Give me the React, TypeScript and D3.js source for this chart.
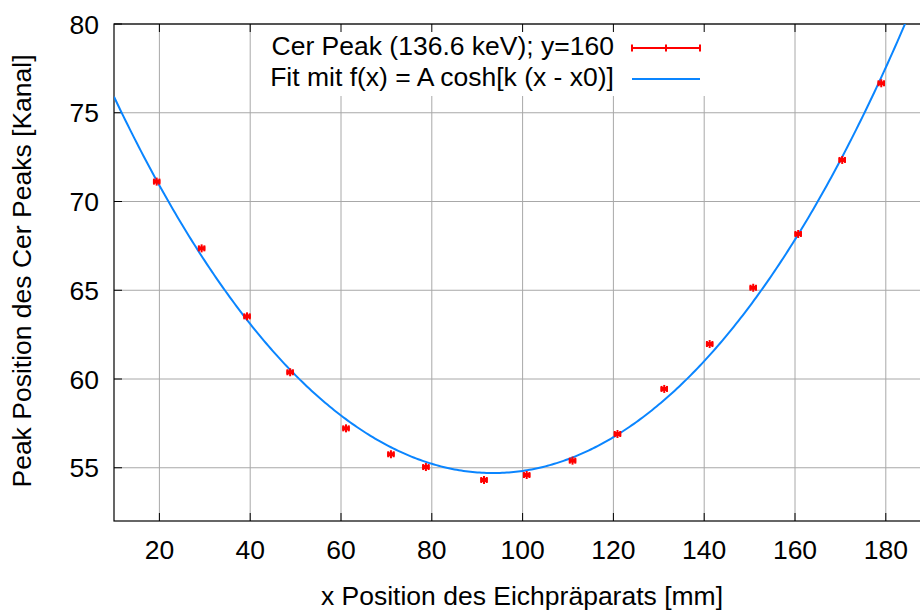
import * as d3 from 'd3';

// Messpunkte
const xPos = [19.4, 29.3, 39.3, 48.8, 61.1, 71.0, 78.7, 91.5, 100.9, 111.0, 120.9, 131.2, 141.2, 150.8, 160.7, 170.4, 179.0];
const peak = [71.12, 67.36, 63.53, 60.38, 57.22, 55.76, 55.04, 54.31, 54.59, 55.4, 56.9, 59.44, 61.97, 65.14, 68.17, 72.34, 76.66];
const xErr = 0.6;

// Fitparameter f(x) = A cosh[k (x - x0)]
const fitA = 54.7;
const fitK = 0.01023;
const fitX0 = 93.5;

const xTicks = [20, 40, 60, 80, 100, 120, 140, 160, 180];
const yTicks = [55, 60, 65, 70, 75, 80];

const legendLabels = ['Cer Peak (136.6 keV); y=160', 'Fit mit f(x) = A cosh[k (x - x0)]'];

const W = 920;
const H = 611;
const left = 114;
const top = 24;
const bottom = 521;
const font = '"Liberation Sans", Arial, sans-serif';
const fs = 26.5;
const red = '#ff0000';
const blue = '#0a85ff';

export default function App() {
  const x = d3.scaleLinear().domain([10, 190]).range([left, left + 180 * 4.54]);
  const y = d3.scaleLinear().domain([52, 80]).range([bottom, top]);
  const right = x.range()[1];

  const fit = (v: number) => fitA * Math.cosh(fitK * (v - fitX0));
  const curve = d3.range(10, 190.01, 0.5).map(v => [v, fit(v)] as [number, number]);
  const line = d3.line<[number, number]>().x(d => x(d[0])).y(d => y(d[1]));

  return (
    <svg width={W} height={H} style={{ display: 'block', position: 'absolute', left: 0, top: 0, background: '#fff' }}>
      <defs>
        <clipPath id="plot">
          <rect x={left} y={top} width={right - left} height={bottom - top} />
        </clipPath>
      </defs>
      {/* Gitter */}
      {xTicks.map(t => (
        <line key={'gx' + t} x1={x(t)} x2={x(t)} y1={top} y2={bottom} stroke="#a8a8a8" strokeWidth={1} />
      ))}
      {yTicks.map(t => (
        <line key={'gy' + t} x1={left} x2={right} y1={y(t)} y2={y(t)} stroke="#a8a8a8" strokeWidth={1} />
      ))}
      {/* Legendenhintergrund */}
      <rect x={257} y={top + 1} width={455} height={71} fill="#fff" />
      {/* Ticks */}
      {xTicks.map(t => (
        <g key={'tx' + t}>
          <line x1={x(t)} x2={x(t)} y1={bottom} y2={bottom - 8} stroke="#000" />
          <line x1={x(t)} x2={x(t)} y1={top} y2={top + 8} stroke="#000" />
          <text x={x(t)} y={559} textAnchor="middle" fontFamily={font} fontSize={fs}>{t}</text>
        </g>
      ))}
      {yTicks.map(t => (
        <g key={'ty' + t}>
          <line x1={left} x2={left + 8} y1={y(t)} y2={y(t)} stroke="#000" />
          <text x={99} y={y(t) + 9.5} textAnchor="end" fontFamily={font} fontSize={fs}>{t}</text>
        </g>
      ))}
      {/* Rahmen */}
      <rect x={left} y={top} width={right - left} height={bottom - top} fill="none" stroke="#000" strokeWidth={1.2} />
      {/* Fit */}
      <path d={line(curve) ?? ''} fill="none" stroke={blue} strokeWidth={2} clipPath="url(#plot)" />
      {/* Messpunkte */}
      {xPos.map((v, i) => {
        const cx = x(v);
        const cy = y(peak[i]);
        const x1 = x(v - xErr);
        const x2 = x(v + xErr);
        return (
          <g key={'p' + i} stroke={red}>
            <line x1={x1 - 1} x2={x2 + 1} y1={cy} y2={cy} strokeWidth={4} />
            <line x1={x1} x2={x1} y1={cy - 3} y2={cy + 3} strokeWidth={2} />
            <line x1={x2} x2={x2} y1={cy - 3} y2={cy + 3} strokeWidth={2} />
            <line x1={cx} x2={cx} y1={cy - 4} y2={cy + 4} strokeWidth={2} />
          </g>
        );
      })}
      {/* Legende */}
      <text x={614} y={55} textAnchor="end" fontFamily={font} fontSize={fs}>{legendLabels[0]}</text>
      <text x={614} y={86} textAnchor="end" fontFamily={font} fontSize={fs}>{legendLabels[1]}</text>
      <g stroke={red} strokeWidth={2}>
        <line x1={632} x2={700} y1={48} y2={48} />
        <line x1={632} x2={632} y1={44.5} y2={51.5} />
        <line x1={700} x2={700} y1={44.5} y2={51.5} />
        <line x1={666} x2={666} y1={44.5} y2={51.5} />
      </g>
      <line x1={632} x2={700} y1={79} y2={79} stroke={blue} strokeWidth={2} />
      {/* Achsentitel */}
      <text x={522} y={605} textAnchor="middle" fontFamily={font} fontSize={fs}>x Position des Eichpräparats [mm]</text>
      <text transform="translate(31,271) rotate(-90)" textAnchor="middle" fontFamily={font} fontSize={fs}>Peak Position des Cer Peaks [Kanal]</text>
    </svg>
  );
}
